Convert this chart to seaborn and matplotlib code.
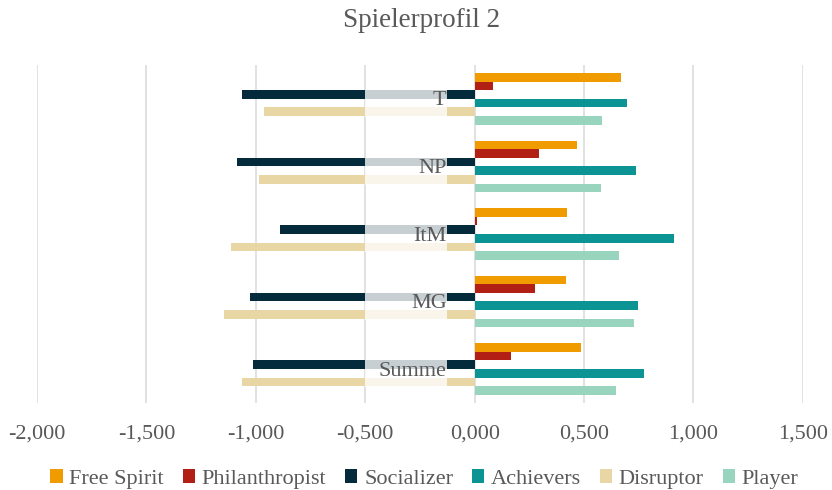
import matplotlib
matplotlib.use('Agg')
import matplotlib.pyplot as plt
import seaborn as sns
import pandas as pd
from matplotlib.patches import Patch, Rectangle
from matplotlib.ticker import FuncFormatter, MultipleLocator

# --- Daten ---
categories = ['T', 'NP', 'ItM', 'MG', 'Summe']
series = ['Free Spirit', 'Philanthropist', 'Socializer', 'Achievers', 'Disruptor', 'Player']

free_spirit = [0.669, 0.469, 0.424, 0.419, 0.488]
philanthropist = [0.082, 0.294, 0.011, 0.276, 0.166]
socializer = [-1.063, -1.088, -0.890, -1.025, -1.013]
achievers = [0.698, 0.736, 0.909, 0.748, 0.772]
disruptor = [-0.964, -0.987, -1.115, -1.146, -1.063]
player = [0.580, 0.576, 0.661, 0.728, 0.648]

colors = ['#F09C00', '#B21F15', '#032B3C', '#0C9494', '#E9D6A5', '#98D4BE']
grey = '#595959'

values = [free_spirit, philanthropist, socializer, achievers, disruptor, player]
rows = []
for name, vals in zip(series, values):
    for cat, v in zip(categories, vals):
        rows.append({'category': cat, 'series': name, 'value': v})
df = pd.DataFrame(rows)

# --- Plot ---
sns.set_style('white')
plt.rcParams['font.family'] = ['Liberation Serif', 'DejaVu Serif']

fig = plt.figure(figsize=(8.32, 4.9), dpi=100)
ax = fig.add_axes([0.0445, 0.178, 0.9205, 0.689])

sns.barplot(data=df, x='value', y='category', hue='series', order=categories,
            hue_order=series, palette=colors, orient='h', width=0.76,
            saturation=1, errorbar=None, linewidth=0, legend=False, ax=ax)

ax.set_xlim(-2, 1.5)
ax.xaxis.set_major_locator(MultipleLocator(0.5))
ax.xaxis.set_major_formatter(FuncFormatter(lambda v, p: f'{v:.3f}'.replace('.', ',')))
ax.grid(axis='x', color='#D9D9D9', lw=1.1)
ax.set_axisbelow(True)
ax.set_yticks([])
ax.set_xlabel('')
ax.set_ylabel('')
ax.tick_params(axis='x', length=0, pad=16, labelsize=16, labelcolor=grey)
for s in ax.spines.values():
    s.set_visible(False)

# Kategorienbeschriftung mit halbtransparentem Hintergrund
for i, cat in enumerate(categories):
    ax.add_patch(Rectangle((-0.5, i - 0.13), 0.375, 0.40, facecolor='white',
                           alpha=0.78, lw=0, zorder=3))
    ax.text(-0.128, i + 0.03, cat, ha='right', va='center', fontsize=16,
            color=grey, zorder=4)

fig.suptitle('Spielerprofil 2', x=0.507, y=0.958, va='center', fontsize=19.5, color=grey)

handles = [Patch(facecolor=c, edgecolor='none') for c in colors]
fig.legend(handles, series, loc='center', bbox_to_anchor=(0.51, 0.022), ncol=6,
           frameon=False, fontsize=16, handlelength=0.55, handleheight=0.55,
           handletextpad=0.3, columnspacing=0.85, labelcolor=grey)

fig.savefig('out.png', dpi=100)
